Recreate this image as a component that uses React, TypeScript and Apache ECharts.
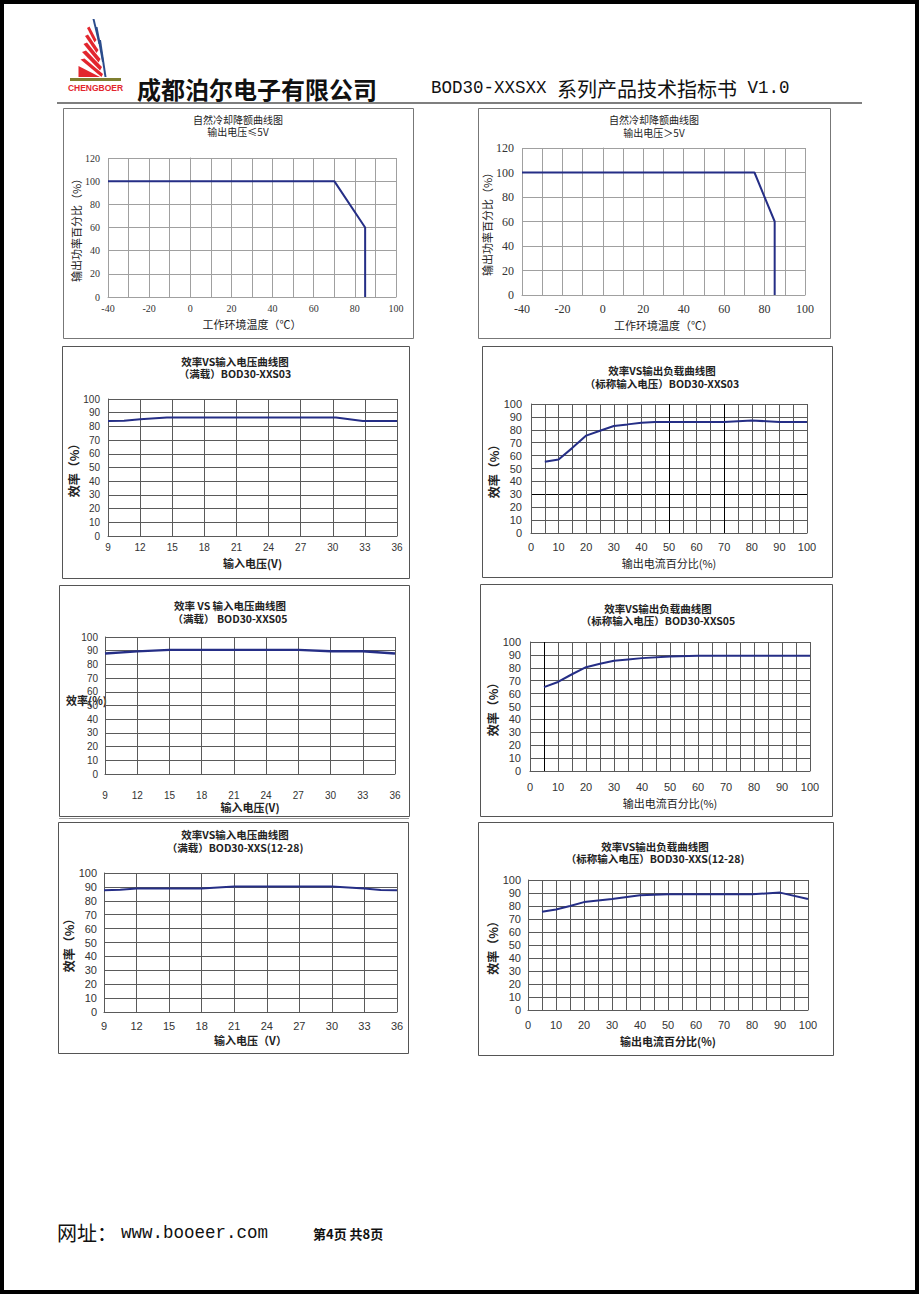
import React, { useEffect, useRef } from "react";
import * as echarts from "echarts";

// ---- data ----
const derateLowX = [-40, 70, 85, 85];
const derateLowY = [100, 100, 60, 0];
const derateHighX = [-40, 75, 85, 85];
const derateHighY = [100, 100, 60, 0];

const vin03X = [9, 10.5, 12, 14.5, 30.3, 32.8, 36];
const vin03Y = [84, 84.1, 85.2, 86.5, 86.5, 84, 84];

const load03X = [5, 10, 15, 20, 25, 30, 35, 40, 45, 50, 60, 70, 80, 90, 100];
const load03Y = [55.3, 57, 66, 75.5, 79.3, 83, 84.2, 85.5, 86, 86, 86, 86, 87.3, 86, 86];

const vin05X = [9, 12, 15, 27, 30, 33, 36];
const vin05Y = [88, 89.5, 90.6, 90.6, 89.6, 89.6, 88];

const load05X = [5, 10, 15, 20, 25, 30, 35, 40, 50, 60, 100];
const load05Y = [65, 69, 75, 80.5, 83.2, 85.5, 86.5, 87.5, 88.7, 89.3, 89.3];

const vin12X = [9, 10.5, 12, 18, 19.5, 21, 30, 31.5, 33, 34.5, 36];
const vin12Y = [87.6, 88, 88.8, 88.8, 89.5, 90.2, 90.2, 89.5, 88.8, 87.8, 87.6];

const load12X = [5, 10, 15, 20, 30, 40, 50, 80, 90, 100];
const load12Y = [75.5, 77.3, 80, 83, 85.4, 88.2, 89, 89, 90.3, 85.4];

const titleLine1 = [
  "自然冷却降额曲线图",
  "自然冷却降额曲线图",
  "效率VS输入电压曲线图",
  "效率VS输出负载曲线图",
  "效率 VS 输入电压曲线图",
  "效率VS输出负载曲线图",
  "效率VS输入电压曲线图",
  "效率VS输出负载曲线图",
];
const titleLine2 = [
  "输出电压≤5V",
  "输出电压＞5V",
  "（满载）BOD30-XXS03",
  "（标称输入电压）BOD30-XXS03",
  "（满载） BOD30-XXS05",
  "（标称输入电压）BOD30-XXS05",
  "（满载）BOD30-XXS(12-28)",
  "（标称输入电压）BOD30-XXS(12-28)",
];

const CJK = '"Noto Sans CJK SC", sans-serif';
const LINE = "#252e86";
const G = "#5a5a5a";
const K = "#000000";

function colorsFor(n: number, dark: number[]) {
  const arr: string[] = [];
  for (let i = 0; i < n; i++) arr.push(dark.indexOf(i) >= 0 ? K : G);
  return arr;
}

const panels: any[] = [
  {
    left: 108, top: 158, width: 288, height: 139,
    xMin: -40, xMax: 100, xInt: 10, xStep: 20, yMax: 120, yInt: 20,
    xName: "工作环境温度（℃）", yName: "输出功率百分比（%）", xBold: false, yBold: false,
    xNameGap: 21, yNameGap: 27, nameSize: 11,
    family: '"Liberation Serif", serif', size: 10, xMargin: 6, yMargin: 8, yPad: 0,
    vColors: "#a0a0a0", hColors: "#a0a0a0", xs: derateLowX, ys: derateLowY,
  },
  {
    left: 522, top: 148, width: 283, height: 147,
    xMin: -40, xMax: 100, xInt: 10, xStep: 20, yMax: 120, yInt: 20,
    xName: "工作环境温度（℃）", yName: "输出功率百分比（%）", xBold: false, yBold: false,
    xNameGap: 24, yNameGap: 27, nameSize: 11,
    family: '"Liberation Serif", serif', size: 12, xMargin: 8, yMargin: 8, yPad: 0,
    vColors: "#a0a0a0", hColors: "#a0a0a0", xs: derateHighX, ys: derateHighY,
  },
  {
    left: 108, top: 399, width: 289, height: 137,
    xMin: 9, xMax: 36, xInt: 3, xStep: 3, yMax: 100, yInt: 10,
    xName: "输入电压(V)", yName: "效率（%）", xBold: true, yBold: true,
    xNameGap: 21, yNameGap: 27, nameSize: 11,
    family: '"Liberation Sans", sans-serif', size: 10, xMargin: 6, yMargin: 8, yPad: 0,
    vColors: G, hColors: G, xs: vin03X, ys: vin03Y,
  },
  {
    left: 531, top: 404, width: 276, height: 129,
    xMin: 0, xMax: 100, xInt: 5, xStep: 10, yMax: 100, yInt: 10,
    xName: "输出电流百分比(%)", yName: "效率（%）", xBold: false, yBold: true,
    xNameGap: 24, yNameGap: 29, nameSize: 11,
    family: '"Liberation Sans", sans-serif', size: 11, xMargin: 8, yMargin: 9, yPad: 0,
    vColors: colorsFor(21, [10, 14]), hColors: colorsFor(11, [3]), xs: load03X, ys: load03Y,
  },
  {
    left: 105, top: 637, width: 290, height: 137,
    xMin: 9, xMax: 36, xInt: 3, xStep: 3, yMax: 100, yInt: 10,
    xName: "输入电压(V)", yName: "", xBold: true, yBold: true,
    xNameGap: 27, yNameGap: 27, nameSize: 11,
    family: '"Liberation Sans", sans-serif', size: 10, xMargin: 16, yMargin: 7, yPad: 16,
    vColors: G, hColors: G, xs: vin05X, ys: vin05Y,
  },
  {
    left: 530, top: 642, width: 280, height: 129,
    xMin: 0, xMax: 100, xInt: 5, xStep: 10, yMax: 100, yInt: 10,
    xName: "输出电流百分比(%)", yName: "效率（%）", xBold: false, yBold: true,
    xNameGap: 26, yNameGap: 30, nameSize: 11,
    family: '"Liberation Sans", sans-serif', size: 11, xMargin: 10, yMargin: 9, yPad: 0,
    vColors: colorsFor(21, [1]), hColors: G, xs: load05X, ys: load05Y,
  },
  {
    left: 104, top: 873, width: 293, height: 139,
    xMin: 9, xMax: 36, xInt: 3, xStep: 3, yMax: 100, yInt: 10,
    xName: "输入电压（V）", yName: "效率（%）", xBold: true, yBold: true,
    xNameGap: 22, yNameGap: 26, nameSize: 11,
    family: '"Liberation Sans", sans-serif', size: 11, xMargin: 8, yMargin: 7, yPad: 0,
    vColors: G, hColors: G, xs: vin12X, ys: vin12Y,
  },
  {
    left: 528, top: 880, width: 280, height: 130,
    xMin: 0, xMax: 100, xInt: 5, xStep: 10, yMax: 100, yInt: 10,
    xName: "输出电流百分比(%)", yName: "效率（%）", xBold: true, yBold: true,
    xNameGap: 25, yNameGap: 30, nameSize: 11,
    family: '"Liberation Sans", sans-serif', size: 11, xMargin: 9, yMargin: 7, yPad: 0,
    vColors: G, hColors: G, xs: load12X, ys: load12Y,
  },
];

const boxes = [
  [63, 108, 350, 230],
  [478, 108, 352, 230],
  [62, 346, 347, 232],
  [482, 346, 350, 231],
  [59, 585, 350, 231],
  [480, 584, 352, 232],
  [58, 822, 350, 231],
  [478, 822, 355, 233],
];

// centre x, first-line y, second-line y
const titlePos = [
  { x: 238, y1: 119, y2: 131.5, size: 10, bold: false },
  { x: 654, y1: 119.5, y2: 132, size: 10, bold: false },
  { x: 235, y1: 361, y2: 373.5, size: 10.5, bold: true },
  { x: 662, y1: 370, y2: 383, size: 10.5, bold: true },
  { x: 230, y1: 605, y2: 618, size: 10.5, bold: true },
  { x: 658, y1: 608, y2: 620.5, size: 10.5, bold: true },
  { x: 235, y1: 834, y2: 847, size: 10.5, bold: true },
  { x: 655, y1: 846, y2: 858.5, size: 10.5, bold: true },
];

function buildOption() {
  const grid: any[] = [];
  const xAxis: any[] = [];
  const yAxis: any[] = [];
  const series: any[] = [];
  panels.forEach((p, i) => {
    grid.push({
      left: p.left, top: p.top, width: p.width, height: p.height,
      containLabel: false, show: false,
    });
    xAxis.push({
      type: "value", gridIndex: i, min: p.xMin, max: p.xMax, interval: p.xInt,
      name: p.xName, nameLocation: "middle", nameGap: p.xNameGap,
      nameTextStyle: { fontFamily: CJK, fontSize: p.nameSize, fontWeight: p.xBold ? "bold" : "normal", color: "#222" },
      axisLine: { show: true, lineStyle: { color: typeof p.vColors === "string" ? p.vColors : G, width: 1 } },
      axisTick: { show: false },
      splitLine: { show: true, lineStyle: { color: p.vColors, width: 1 } },
      axisLabel: {
        margin: p.xMargin, fontFamily: p.family, fontSize: p.size, color: "#333",
        formatter: (v: number) => (Math.round(v - p.xMin) % p.xStep === 0 ? String(v) : ""),
      },
    });
    yAxis.push({
      type: "value", gridIndex: i, min: 0, max: p.yMax, interval: p.yInt,
      name: p.yName, nameLocation: "middle", nameGap: p.yNameGap, nameRotate: 90,
      nameTextStyle: { fontFamily: CJK, fontSize: p.yBold ? 12 : 11, fontWeight: p.yBold ? "bold" : "normal", color: "#222" },
      axisLine: { show: true, lineStyle: { color: typeof p.hColors === "string" ? p.hColors : G, width: 1 } },
      axisTick: { show: false },
      splitLine: { show: true, lineStyle: { color: p.hColors, width: 1 } },
      axisLabel: {
        margin: p.yMargin, fontFamily: p.family, fontSize: p.size, color: "#333",
        padding: p.yPad ? [p.yPad, 0, 0, 0] : 0,
      },
    });
    series.push({
      type: "line", xAxisIndex: i, yAxisIndex: i, showSymbol: false, symbol: "none",
      data: p.xs.map((x: number, k: number) => [x, p.ys[k]]),
      lineStyle: { color: LINE, width: i === 4 ? 2.4 : 2 },
      silent: true,
    });
  });

  const graphic: any[] = [];
  // page border
  graphic.push({ type: "rect", shape: { x: 2, y: 2, width: 915, height: 1290 }, style: { fill: "none", stroke: "#000", lineWidth: 4 }, z: 100 });
  // header rule
  graphic.push({ type: "line", shape: { x1: 57, y1: 103, x2: 862, y2: 103 }, style: { stroke: "#000", lineWidth: 1.2 } });
  // logo
  const blue = "#2b4c8c";
  const red = "#e2262e";
  const redPolys = [
    [[87, 28], [89.5, 26.5], [96.5, 40], [94.5, 42.5]],
    [[85, 36], [88, 34.5], [98.5, 50], [96.5, 53]],
    [[83.5, 44], [87, 42.5], [100.5, 59], [98.5, 62.5]],
    [[82, 52], [86, 50.5], [102, 67], [100, 70.5]],
    [[80.5, 59.5], [84.5, 58.5], [103, 74], [101.5, 77]],
    [[78.5, 66], [100, 77], [78.5, 77]],
  ];
  redPolys.forEach((pts) => graphic.push({ type: "polygon", shape: { points: pts }, style: { fill: red } }));
  const bluePolys = [
    [[92.5, 19], [94.5, 19], [100.5, 44], [98.5, 44]],
    [[95.5, 27], [97.5, 27], [104, 62], [102, 62]],
    [[99, 40], [101, 40], [106.5, 77], [104.5, 77]],
  ];
  bluePolys.forEach((pts) => graphic.push({ type: "polygon", shape: { points: pts }, style: { fill: blue } }));
  graphic.push({ type: "rect", shape: { x: 70, y: 78, width: 51, height: 3 }, style: { fill: "#7f7f30" } });
  graphic.push({
    type: "text", x: 95.5, y: 87.5,
    style: { text: "CHENGBOER", fill: red, font: 'bold 8.5px "Liberation Sans", sans-serif', textAlign: "center", textVerticalAlign: "middle" },
  });
  // header titles
  graphic.push({
    type: "text", x: 137, y: 88,
    style: { text: "成都泊尔电子有限公司", fill: "#111", font: `bold 24px ${CJK}`, textAlign: "left", textVerticalAlign: "middle" },
  });
  graphic.push({
    type: "text", x: 431, y: 88,
    style: {
      text: "{a|BOD30-XXSXX }{b|系列产品技术指标书}{a| V1.0}",
      textAlign: "left", textVerticalAlign: "middle",
      rich: {
        a: { fontFamily: '"Liberation Mono", monospace', fontSize: 17.5, fill: "#111", color: "#111" },
        b: { fontFamily: CJK, fontSize: 20, fill: "#111", color: "#111" },
      },
    },
  });
  // footer
  graphic.push({
    type: "text", x: 57, y: 1232,
    style: { text: "网址：", fill: "#111", font: `20px ${CJK}`, textAlign: "left", textVerticalAlign: "middle" },
  });
  graphic.push({
    type: "text", x: 121, y: 1233,
    style: { text: "www.booeer.com", fill: "#111", font: '17.5px "Liberation Mono", monospace', textAlign: "left", textVerticalAlign: "middle" },
  });
  graphic.push({
    type: "text", x: 313, y: 1233,
    style: { text: "第4页 共8页", fill: "#111", font: `bold 13px ${CJK}`, textAlign: "left", textVerticalAlign: "middle" },
  });
  // chart boxes
  boxes.forEach((b, i) => {
    graphic.push({
      type: "rect", shape: { x: b[0] + 0.5, y: b[1] + 0.5, width: b[2], height: b[3] },
      style: { fill: "none", stroke: i < 2 ? "#777" : "#555", lineWidth: 1 },
    });
  });
  graphic.push({ type: "line", shape: { x1: 59, y1: 818.5, x2: 409, y2: 818.5 }, style: { stroke: "#999", lineWidth: 1 } });
  // chart titles (two lines each)
  titlePos.forEach((tp, i) => {
    const font = `${tp.bold ? "bold " : ""}${tp.size}px ${CJK}`;
    graphic.push({
      type: "text", x: tp.x, y: tp.y1,
      style: { text: titleLine1[i], fill: "#222", font, textAlign: "center", textVerticalAlign: "middle" },
    });
    graphic.push({
      type: "text", x: tp.x, y: tp.y2,
      style: { text: titleLine2[i], fill: "#222", font, textAlign: "center", textVerticalAlign: "middle" },
    });
  });
  // chart 5 horizontal y name (overlaps the "60" label in the original)
  graphic.push({
    type: "text", x: 66, y: 700,
    style: { text: "效率(%)", fill: "#222", font: `bold 11px ${CJK}`, textAlign: "left", textVerticalAlign: "middle" },
  });

  return {
    animation: false,
    backgroundColor: "#ffffff",
    grid, xAxis, yAxis, series, graphic,
  };
}

export default function App() {
  const ref = useRef<HTMLDivElement>(null);
  useEffect(() => {
    if (!ref.current) return;
    const chart = echarts.init(ref.current, undefined, { renderer: "svg" });
    chart.setOption(buildOption() as any);
    return () => chart.dispose();
  }, []);
  return (
    <div
      ref={ref}
      style={{ position: "absolute", left: 0, top: 0, width: 919, height: 1294, background: "#fff" }}
    />
  );
}
